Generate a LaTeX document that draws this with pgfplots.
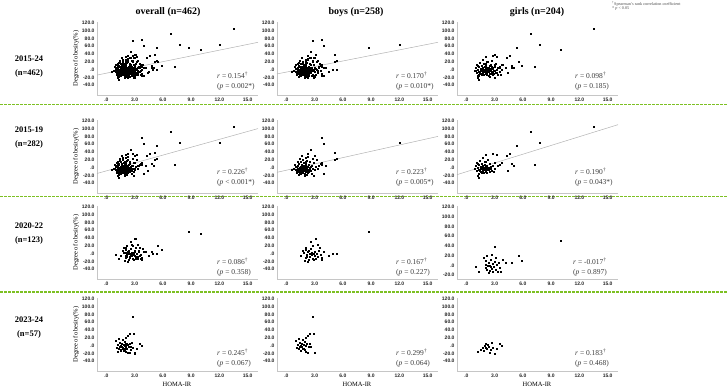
\documentclass[border=0pt]{standalone}
\usepackage{fontspec}
\setmainfont{Liberation Serif}
\newfontfamily\arialf{Liberation Sans}
\usepackage{pgfplots}
\usepackage{pgfplotstable}
\pgfplotsset{compat=1.18}
\definecolor{sepgreen}{RGB}{125,192,35}
\definecolor{rtxt}{RGB}{60,60,60}

\pgfplotstableread{
x y
1.0 -5
1.1 2
1.2 -8
1.2 5
1.3 -3
1.3 10
1.4 -12
1.4 0
1.5 -6
1.5 3
1.5 15
1.6 -2
1.6 -10
1.6 8
1.7 -5
1.7 1
1.7 20
1.8 -8
1.8 4
1.8 12
1.9 -3
1.9 -15
2.0 0
2.0 6
2.0 25
2.1 -7
2.1 10
2.2 -2
2.2 18
2.3 -12
2.3 3
2.4 -5
2.4 8
2.5 0
2.5 15
2.6 -8
2.7 5
2.8 -3
2.9 12
3.0 -6
3.1 2
3.2 20
0.8 -4
0.9 8
1.1 -14
1.3 -18
1.4 22
1.6 30
1.9 -20
2.2 -18
2.7 -15
3.3 -2
3.4 6
2.8 22
2.3 28
1.2 14
1.1 -9
1.5 -16
1.7 -12
1.9 5
2.1 -1
2.4 -10
2.6 3
2.0 -10
1.8 -1
1.4 -6
1.6 4
1.3 -11
1.5 -9
1.7 -1
1.9 -8
2.1 -4
2.3 -7
1.2 -2
1.0 3
2.0 16
2.5 -3
3.8 77
4.0 60
12.0 65
5.1 38
5.3 22
5.1 20
2.6 45
2.3 35
4.0 -15
3.6 10
3.7 13
3.8 8
4.2 5
0.6 -5
3.0 30
2.9 -20
}\boysA

\pgfplotstableread{
x y
1.5 -5
1.8 2
2.0 -10
2.0 10
2.2 -3
2.3 5
2.4 -15
2.5 0
2.5 -8
2.6 12
2.7 -4
2.7 3
2.8 -12
2.8 20
2.9 -1
3.0 6
3.0 -6
3.1 -14
3.1 38
3.2 1
3.3 -9
3.4 8
3.5 15
3.6 -3
3.8 -10
4.0 4
2.6 30
2.1 15
1.9 -18
2.3 -20
2.9 -16
3.3 22
4.5 -5
4.9 0
5.3 0
8.7 55
2.4 7
2.2 -7
3.7 -15
1.7 8
}\boysB

\pgfplotstableread{
x y
1.0 12
1.1 -5
1.2 3
1.3 -8
1.4 8
1.5 0
1.5 -12
1.6 5
1.6 -3
1.7 15
1.8 -7
1.8 2
1.9 10
2.0 -1
2.0 -15
2.1 20
2.2 6
2.3 25
2.3 -17
2.4 -4
2.5 30
2.5 5
2.9 30
2.8 75
3.0 -18
1.9 -10
1.4 -2
1.7 -9
2.6 -2
1.3 18
}\boysC

\pgfplotstableread{
x y
0.9 -3
1.0 5
1.1 -8
1.1 12
1.2 -20
1.2 0
1.3 -15
1.3 -25
1.3 7
1.4 -5
1.4 18
1.5 2
1.5 -10
1.6 -3
1.6 10
1.7 -7
1.7 5
1.7 25
1.8 0
1.8 -12
1.9 8
1.9 -4
2.0 3
2.0 -9
2.0 15
2.1 33
2.1 -2
2.2 6
2.2 -13
2.3 0
2.3 20
2.4 -6
2.5 10
2.5 -11
2.6 2
2.7 -8
2.8 35
2.8 4
2.9 -10
3.0 -3
3.0 12
3.2 33
3.3 5
3.5 8
3.8 12
4.3 30
4.4 -8
4.6 35
4.8 10
5.0 5
5.3 55
6.8 93
7.3 8
7.8 65
13.5 105
1.5 -1
1.6 -14
1.9 14
2.4 -1
2.6 -4
1.2 9
1.4 -9
1.6 1
1.8 -6
2.1 -11
2.2 -5
1.3 -6
1.7 -3
}\girlsA

\pgfplotstableread{
x y
1.0 -3
1.3 -12
1.8 15
2.0 -5
2.1 2
2.2 20
2.2 -8
2.3 -1
2.4 5
2.5 -10
2.5 0
2.6 -3
2.7 22
2.7 -6
2.8 3
2.8 -13
2.9 -2
3.0 38
3.0 8
3.1 -8
3.2 1
3.3 -12
3.4 5
3.5 -5
3.9 12
4.2 5
4.8 5
5.5 20
5.9 10
10.0 50
2.0 10
2.4 -15
3.1 15
3.6 -14
2.6 12
}\girlsB

\pgfplotstableread{
x y
1.2 -15
1.5 -10
1.7 -5
1.8 -12
2.0 -5
2.1 5
2.2 -8
2.3 3
2.4 -3
2.5 -18
2.6 -10
2.8 -5
3.0 -20
3.2 -8
3.5 5
3.8 0
1.9 0
2.7 8
}\girlsC

\pgfplotsset{
  panel/.style={
    scale only axis, width=161pt, height=73pt, anchor=north west,
    xmin=-1, xmax=16.1, ymin=-65, ymax=122,
    axis x line=bottom, axis y line=left,
    axis line style={-, draw=gray!45, line width=0.5pt},
    xtick={0,3,6,9,12,15}, xticklabels={.0,3.0,6.0,9.0,12.0,15.0},
    ytick={-40,-20,0,20,40,60,80,100,120},
    yticklabels={-40.0,-20.0,.0,20.0,40.0,60.0,80.0,100.0,120.0},
    major tick length=0pt,
    tick label style={font=\arialf\bfseries\fontsize{5}{5}\selectfont, text=black!85},
    xticklabel style={yshift=1pt},
    yticklabel style={xshift=1pt},
    clip=false,
  },
  pts/.style={only marks, mark=square*, mark size=0.5pt, black},
  trend/.style={no marks, draw=gray!60, line width=0.5pt},
}

\begin{document}
\begin{tikzpicture}
\useasboundingbox (0pt,0pt) rectangle (728pt,388pt);

% separators
\draw[sepgreen, line width=1.1pt, dash pattern=on 2.5pt off 1.5pt] (0pt,283.5pt) -- (728pt,283.5pt);
\draw[sepgreen, line width=1.1pt, dash pattern=on 2.5pt off 1.5pt] (0pt,191.5pt) -- (728pt,191.5pt);
\draw[sepgreen, line width=1.1pt, dash pattern=on 2.5pt off 1.5pt] (0pt,96pt) -- (728pt,96pt);

% titles
\node[font=\bfseries\fontsize{10}{12}\selectfont] at (168pt,376pt) {overall (n=462)};
\node[font=\bfseries\fontsize{10}{12}\selectfont] at (356pt,376pt) {boys (n=258)};
\node[font=\bfseries\fontsize{10}{12}\selectfont] at (537pt,376pt) {girls (n=204)};

% footnote
\node[anchor=west, font=\fontsize{4.2}{5}\selectfont, text=black!70, inner sep=0pt] at (612pt,384.5pt) {\textsuperscript{†}Spearman's rank correlation coefficient};
\node[anchor=west, font=\fontsize{4.2}{5}\selectfont, text=black!70, inner sep=0pt] at (612pt,379.5pt) {* \textit{p} < 0.05};

% row labels
\node[font=\bfseries\fontsize{8.5}{14}\selectfont, align=center] at (29pt,321pt) {2015-24\\(n=462)};
\node[font=\bfseries\fontsize{8.5}{14}\selectfont, align=center] at (29pt,250pt) {2015-19\\(n=282)};
\node[font=\bfseries\fontsize{8.5}{14}\selectfont, align=center] at (29pt,154pt) {2020-22\\(n=123)};
\node[font=\bfseries\fontsize{8.5}{14}\selectfont, align=center] at (29pt,60pt) {2023-24\\(n=57)};

% ===== Row 1 =====
\begin{axis}[panel, at={(97pt,366pt)}]
\addplot[pts] table {\boysA}; \addplot[pts] table {\boysB}; \addplot[pts] table {\boysC};
\addplot[pts] table {\girlsA}; \addplot[pts] table {\girlsB}; \addplot[pts] table {\girlsC};
\addplot[trend] coordinates {(-1,-14) (16.1,70)};
\end{axis}
\begin{axis}[panel, at={(277pt,366pt)}]
\addplot[pts] table {\boysA}; \addplot[pts] table {\boysB}; \addplot[pts] table {\boysC};
\addplot[trend] coordinates {(-1,-11) (16.1,70)};
\end{axis}
\begin{axis}[panel, at={(457pt,366pt)}]
\addplot[pts] table {\girlsA}; \addplot[pts] table {\girlsB}; \addplot[pts] table {\girlsC};
\end{axis}

% ===== Row 2 =====
\begin{axis}[panel, at={(97pt,268pt)}]
\addplot[pts] table {\boysA}; \addplot[pts] table {\girlsA};
\addplot[trend] coordinates {(-1,-15) (16.1,100)};
\end{axis}
\begin{axis}[panel, at={(277pt,268pt)}]
\addplot[pts] table {\boysA};
\addplot[trend] coordinates {(-1,-12) (16.1,80)};
\end{axis}
\begin{axis}[panel, at={(457pt,268pt)}]
\addplot[pts] table {\girlsA};
\addplot[trend] coordinates {(-1,-18) (16.1,110)};
\end{axis}

% ===== Row 3 =====
\begin{axis}[panel, at={(97pt,182pt)}]
\addplot[pts] table {\boysB}; \addplot[pts] table {\girlsB};
\end{axis}
\begin{axis}[panel, at={(277pt,182pt)}]
\addplot[pts] table {\boysB};
\end{axis}
\begin{axis}[panel, at={(457pt,182pt)}, ymin=-28,
  ytick={-20,0,20,40,60,80,100,120},
  yticklabels={-20.0,.0,20.0,40.0,60.0,80.0,100.0,120.0}]
\addplot[pts] table {\girlsB};
\end{axis}

% ===== Row 4 =====
\begin{axis}[panel, at={(97pt,90pt)}]
\addplot[pts] table {\boysC}; \addplot[pts] table {\girlsC};
\end{axis}
\begin{axis}[panel, at={(277pt,90pt)}]
\addplot[pts] table {\boysC};
\end{axis}
\begin{axis}[panel, at={(457pt,90pt)}]
\addplot[pts] table {\girlsC};
\end{axis}

% y labels
\node[rotate=90, font=\fontsize{6.5}{8}\selectfont] at (76pt,329.5pt) {Degree of obesity(\%)};
\node[rotate=90, font=\fontsize{6.5}{8}\selectfont] at (76pt,231.5pt) {Degree of obesity(\%)};
\node[rotate=90, font=\fontsize{6.5}{8}\selectfont] at (76pt,145.5pt) {Degree of obesity(\%)};
\node[rotate=90, font=\fontsize{6.5}{8}\selectfont] at (76pt,53.5pt) {Degree of obesity(\%)};
% x labels
\node[font=\fontsize{6.5}{8}\selectfont] at (177pt,4pt) {HOMA-IR};
\node[font=\fontsize{6.5}{8}\selectfont] at (357pt,4pt) {HOMA-IR};
\node[font=\fontsize{6.5}{8}\selectfont] at (537pt,4pt) {HOMA-IR};

% r / p annotations
\tikzset{rp/.style={anchor=west, font=\fontsize{7.5}{9}\selectfont, text=rtxt, inner sep=0pt}}
\node[rp] at (217pt,313pt) {\textit{r} = 0.154\textsuperscript{†}};
\node[rp] at (217pt,301pt) {(\textit{p} = 0.002*)};
\node[rp] at (396pt,313pt) {\textit{r} = 0.170\textsuperscript{†}};
\node[rp] at (396pt,301pt) {(\textit{p} = 0.010*)};
\node[rp] at (575pt,313pt) {\textit{r} = 0.098\textsuperscript{†}};
\node[rp] at (575pt,301pt) {(\textit{p} = 0.185)};

\node[rp] at (217pt,217pt) {\textit{r} = 0.226\textsuperscript{†}};
\node[rp] at (217pt,205pt) {(\textit{p} < 0.001*)};
\node[rp] at (396pt,217pt) {\textit{r} = 0.223\textsuperscript{†}};
\node[rp] at (396pt,205pt) {(\textit{p} = 0.005*)};
\node[rp] at (575pt,217pt) {\textit{r} = 0.190\textsuperscript{†}};
\node[rp] at (575pt,205pt) {(\textit{p} = 0.043*)};

\node[rp] at (217pt,127pt) {\textit{r} = 0.086\textsuperscript{†}};
\node[rp] at (217pt,115pt) {(\textit{p} = 0.358)};
\node[rp] at (396pt,127pt) {\textit{r} = 0.167\textsuperscript{†}};
\node[rp] at (396pt,115pt) {(\textit{p} = 0.227)};
\node[rp] at (573pt,127pt) {\textit{r} = -0.017\textsuperscript{†}};
\node[rp] at (573pt,115pt) {(\textit{p} = 0.897)};

\node[rp] at (217pt,36pt) {\textit{r} = 0.245\textsuperscript{†}};
\node[rp] at (217pt,24pt) {(\textit{p} = 0.067)};
\node[rp] at (396pt,36pt) {\textit{r} = 0.299\textsuperscript{†}};
\node[rp] at (396pt,24pt) {(\textit{p} = 0.064)};
\node[rp] at (575pt,36pt) {\textit{r} = 0.183\textsuperscript{†}};
\node[rp] at (575pt,24pt) {(\textit{p} = 0.468)};
\end{tikzpicture}
\end{document}
